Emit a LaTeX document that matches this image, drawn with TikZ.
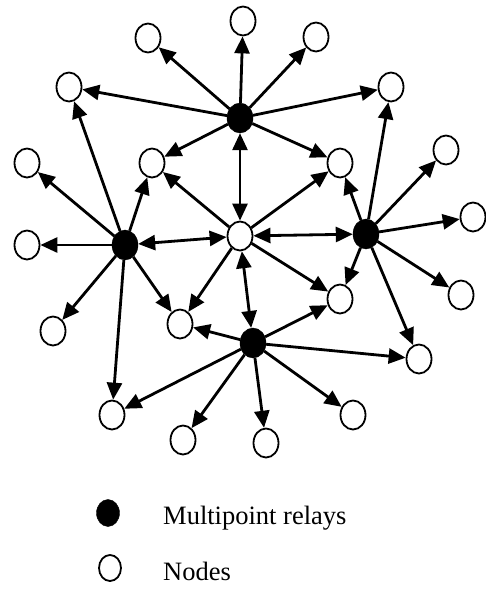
\documentclass[tikz,border=0pt]{standalone}
\usepackage{fontspec}
\setmainfont{Liberation Serif}
\usetikzlibrary{shapes.geometric, arrows.meta, positioning}

\begin{document}
\begin{tikzpicture}[
    x=1pt, y=-1pt,
    relay/.style={draw, ellipse, fill=black, minimum width=26pt, minimum height=30pt, inner sep=0pt},
    plainnode/.style={draw, ellipse, fill=white, line width=1.8pt, minimum width=25pt, minimum height=29pt, inner sep=0pt},
    solidedge/.style={-{Triangle[length=17pt,width=15pt]}, line width=2.8pt},
    bothedge/.style={{Triangle[length=17pt,width=15pt]}-{Triangle[length=17pt,width=15pt]}, line width=2.8pt},
    legendtext/.style={anchor=base west, inner sep=0pt, font=\fontsize{26.5}{30}\selectfont},
]
\useasboundingbox (0,0) rectangle (486,589);

% multipoint relays
\node[relay] (R1) at (240,118) {};
\node[relay] (R2) at (125,245) {};
\node[relay] (R3) at (366,234) {};
\node[relay] (R4) at (253,343) {};

% centre node
\node[plainnode] (C) at (240,236) {};

% other nodes
\node[plainnode] (N1) at (148,38) {};
\node[plainnode] (N2) at (243,21) {};
\node[plainnode] (N3) at (316,37) {};
\node[plainnode] (N4) at (69,87) {};
\node[plainnode] (N5) at (391,87) {};
\node[plainnode] (N6) at (27,163) {};
\node[plainnode] (N7) at (152,163) {};
\node[plainnode] (N8) at (340,163) {};
\node[plainnode] (N9) at (446,150) {};
\node[plainnode] (N10) at (27,245) {};
\node[plainnode] (N11) at (473,217) {};
\node[plainnode] (N12) at (53,331) {};
\node[plainnode] (N13) at (180,324) {};
\node[plainnode] (N14) at (340,299) {};
\node[plainnode] (N15) at (461,295) {};
\node[plainnode] (N16) at (419,359) {};
\node[plainnode] (N17) at (112,415) {};
\node[plainnode] (N18) at (353,415) {};
\node[plainnode] (N19) at (183,440) {};
\node[plainnode] (N20) at (266,443) {};

% relay arrows
\foreach \n in {1,2,3,4,5,7,8} \draw[solidedge] (R1) -- (N\n);
\foreach \n in {4,6,7,10,12,13,17} \draw[solidedge] (R2) -- (N\n);
\foreach \n in {5,8,9,11,14,15,16} \draw[solidedge] (R3) -- (N\n);
\foreach \n in {13,14,16,17,18,19,20} \draw[solidedge] (R4) -- (N\n);

% centre arrows
\foreach \n in {7,8,13,14} \draw[solidedge] (C) -- (N\n);
\foreach \r in {1,2,3,4} \draw[bothedge] (C) -- (R\r);

% legend
\node[relay, minimum width=23pt, minimum height=27pt] (LR) at (108,513) {};
\node[plainnode, minimum width=22pt, minimum height=26pt] (LN) at (110,568) {};
\node[legendtext] (LRtext) at (163,524) {Multipoint relays};
\node[legendtext] (LNtext) at (163,580) {Nodes};

\end{tikzpicture}
\end{document}
